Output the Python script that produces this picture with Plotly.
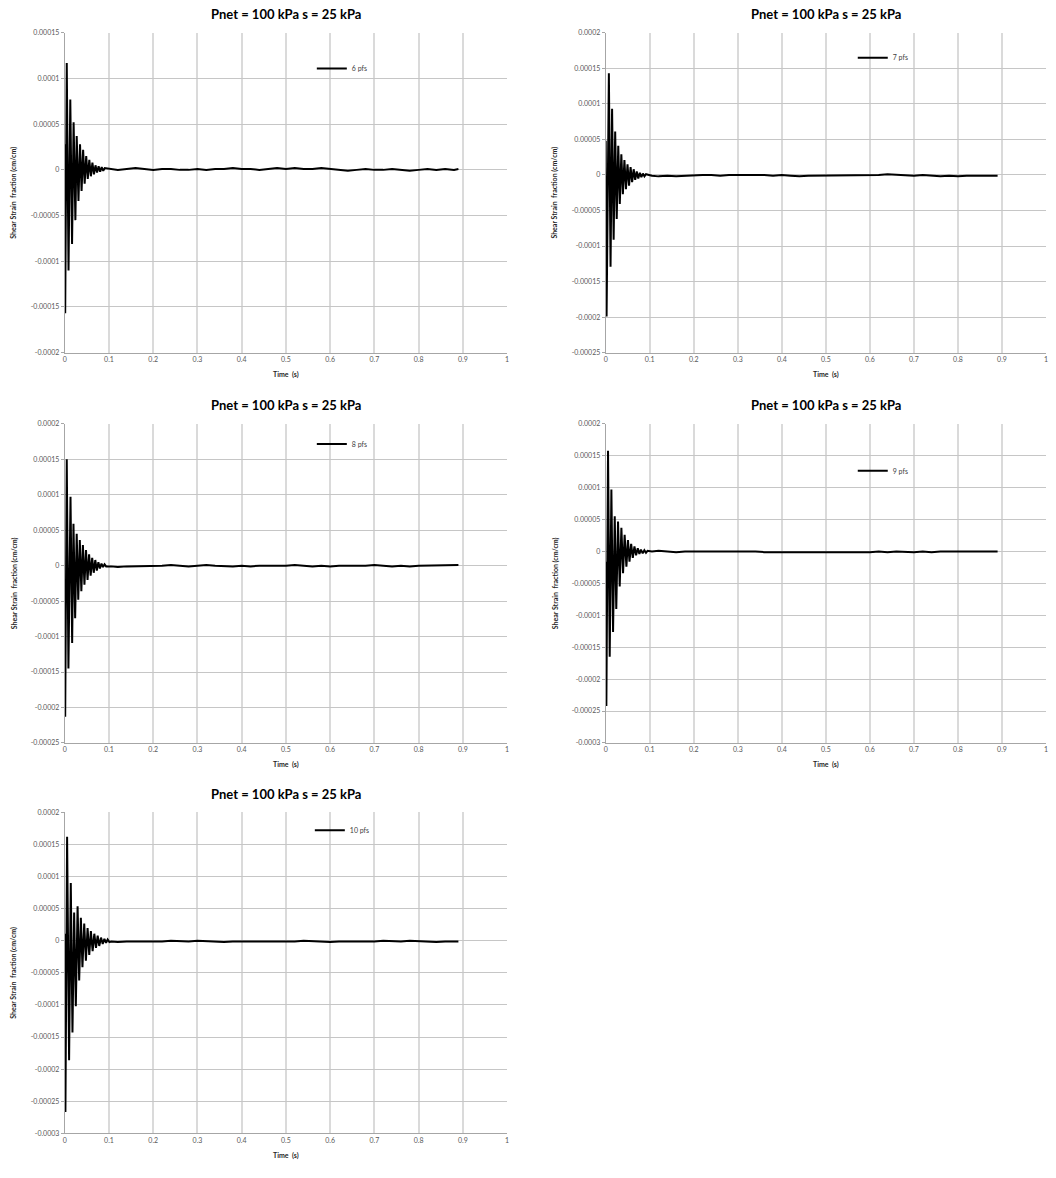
import plotly.graph_objects as go

# ---------------------------------------------------------------
# Shear strain time histories, Pnet = 100 kPa, s = 25 kPa
# Values in the arrays below are in micro-strain units (x 1e-6)
# ---------------------------------------------------------------

TITLE = "Pnet = 100 kPa s = 25 kPa"
X_TITLE = "Time  (s)"
Y_TITLE = "Shear Strain  fraction (cm/cm)"

X_TICKS = [0, 0.1, 0.2, 0.3, 0.4, 0.5, 0.6, 0.7, 0.8, 0.9, 1]
X_TICK_TEXT = ["0", "0.1", "0.2", "0.3", "0.4", "0.5", "0.6", "0.7", "0.8", "0.9", "1"]

Y_TICKS_A = [0.00015, 0.0001, 0.00005, 0, -0.00005, -0.0001, -0.00015, -0.0002]
Y_TEXT_A = ["0.00015", "0.0001", "0.00005", "0", "-0.00005", "-0.0001", "-0.00015", "-0.0002"]
Y_TICKS_B = [0.0002, 0.00015, 0.0001, 0.00005, 0, -0.00005, -0.0001, -0.00015, -0.0002, -0.00025]
Y_TEXT_B = ["0.0002", "0.00015", "0.0001", "0.00005", "0", "-0.00005", "-0.0001", "-0.00015",
            "-0.0002", "-0.00025"]
Y_TICKS_C = [0.0002, 0.00015, 0.0001, 0.00005, 0, -0.00005, -0.0001, -0.00015, -0.0002,
             -0.00025, -0.0003]
Y_TEXT_C = ["0.0002", "0.00015", "0.0001", "0.00005", "0", "-0.00005", "-0.0001", "-0.00015",
            "-0.0002", "-0.00025", "-0.0003"]

# early free-vibration peaks (time in s, strain x 1e-6)
T_6 = [0, 0.001, 0.0045, 0.0085, 0.0125, 0.0165, 0.020, 0.024, 0.027, 0.031, 0.0345, 0.038,
       0.0415, 0.045, 0.0485, 0.052, 0.0555, 0.059, 0.0625, 0.066, 0.0695, 0.073, 0.0765,
       0.080, 0.0835, 0.087, 0.0905]
V_6 = [28, -157, 117, -110, 77, -81, 52, -55, 37, -34, 28, -23, 22, -15, 15, -10, 11, -7, 8,
       -5, 5, -3, 4, -2, 3, -1, 2]

T_7 = [0, 0.002, 0.0072, 0.011, 0.0145, 0.018, 0.0215, 0.025, 0.0285, 0.032, 0.0355, 0.039,
       0.0425, 0.046, 0.0495, 0.053, 0.0565, 0.060, 0.0635, 0.067, 0.0705, 0.074, 0.0775,
       0.081, 0.0845, 0.088, 0.0915]
V_7 = [48, -199, 143, -129, 93, -91, 61, -62, 41, -41, 29, -27, 21, -20, 15, -15, 11, -10, 8,
       -7, 5, -5, 3, -3, 2, -2, 1]

T_8 = [0, 0.001, 0.0045, 0.0083, 0.013, 0.0167, 0.0197, 0.0235, 0.027, 0.0305, 0.034, 0.0375,
       0.041, 0.0445, 0.048, 0.0515, 0.055, 0.0585, 0.062, 0.0655, 0.069, 0.0725, 0.076,
       0.0795, 0.083, 0.0865, 0.090, 0.0935]
V_8 = [-22, -213, 150, -145, 97, -109, 59, -74, 45, -48, 36, -36, 29, -27, 22, -20, 16, -14,
       11, -10, 8, -7, 5, -4, 3, -2, 2, -1]

T_9 = [0, 0.0015, 0.0053, 0.0091, 0.0129, 0.0167, 0.0205, 0.024, 0.028, 0.0318, 0.0356, 0.0394,
       0.043, 0.047, 0.0505, 0.054, 0.0578, 0.0615, 0.0653, 0.069, 0.0728, 0.0765, 0.080,
       0.084, 0.0878, 0.0915, 0.095]
V_9 = [-16, -242, 158, -165, 97, -126, 55, -90, 47, -55, 37, -34, 26, -24, 18, -16, 12, -10,
       8, -6, 5, -4, 3, -3, 2, -2, 1]

T_10 = [0, 0.0015, 0.0053, 0.0098, 0.0136, 0.0174, 0.0212, 0.025, 0.029, 0.0326, 0.0364, 0.040,
        0.044, 0.0478, 0.0516, 0.0554, 0.059, 0.063, 0.0668, 0.0706, 0.0744, 0.078, 0.082,
        0.0858, 0.0896, 0.0934, 0.097, 0.101]
V_10 = [11, -267, 162, -186, 90, -143, 44, -102, 54, -62, 36, -41, 27, -31, 20, -22, 15, -16,
        11, -11, 8, -8, 5, -5, 3, -3, 2, -2]

# residual (post-decay) record
T_TAIL = [0.105, 0.12, 0.14, 0.16, 0.18, 0.20, 0.22, 0.24, 0.26, 0.28, 0.30, 0.32, 0.34, 0.36,
          0.38, 0.40, 0.42, 0.44, 0.46, 0.48, 0.50, 0.52, 0.54, 0.56, 0.58, 0.60, 0.62, 0.64,
          0.66, 0.68, 0.70, 0.72, 0.74, 0.76, 0.78, 0.80, 0.82, 0.84, 0.86, 0.88, 0.89]
TAIL_6 = [1, 0, 1, 2, 1, 0, 1, 1, 0, 0, 1, 0, 1, 1, 2, 1, 1, 0, 1, 2, 1, 2, 1, 1, 2, 1, 0, -1,
          0, 1, 0, 0, 1, 0, -1, 0, 1, 0, 1, 0, 1]
TAIL_7 = [-1, -2, -1, -2, -1, -1, 0, 0, -1, 0, 0, 1, 0, 0, -1, 0, -1, -2, -1, -1, 0, -1, 0, -1,
          -1, 0, 0, 1, 0, -1, -1, 0, -1, -2, -1, -2, -1, -1, -2, -1, -1]
TAIL_8 = [-1, -2, -1, -1, 0, -1, 0, 1, 0, -1, 0, 1, 0, -1, -1, 0, -1, 0, 0, -1, 0, 1, 0, -1, 0,
          -1, 0, 0, -1, 0, 1, 0, -1, 0, -1, 0, 0, 1, 0, 0, 1]
TAIL_9 = [0, 1, 0, -1, 0, 0, 1, 0, 0, 0, 1, 0, 0, -1, -1, -2, -1, -2, -1, -1, -2, -1, -1, -2, -1,
          -1, 0, -1, 0, -1, -1, 0, -1, 0, 0, 1, 0, 0, 1, 0, 0]
TAIL_10 = [-1, -2, -1, -1, -2, -1, -1, 0, -1, -1, 0, -1, -1, -2, -1, -1, -2, -2, -1, -2, -1, -1,
           0, -1, -1, -2, -1, -1, -2, -1, -1, 0, -1, -1, 0, -1, -1, -2, -1, -1, -1]

SERIES = ["6 pfs", "7 pfs", "8 pfs", "9 pfs", "10 pfs"]
PEAK_T = [T_6, T_7, T_8, T_9, T_10]
PEAK_V = [V_6, V_7, V_8, V_9, V_10]
TAILS = [TAIL_6, TAIL_7, TAIL_8, TAIL_9, TAIL_10]
Y_RANGES = [(-0.0002, 0.00015), (-0.00025, 0.0002), (-0.00025, 0.0002),
            (-0.0003, 0.0002), (-0.0003, 0.0002)]
Y_TICKS = [(Y_TICKS_A, Y_TEXT_A), (Y_TICKS_B, Y_TEXT_B), (Y_TICKS_B, Y_TEXT_B),
           (Y_TICKS_C, Y_TEXT_C), (Y_TICKS_C, Y_TEXT_C)]

# ---------------------------------------------------------------
# layout geometry (figure pixels -> paper fractions)
# ---------------------------------------------------------------
W, H = 1056, 1178
COLS = [(63, 507), (606, 1048)]
ROWS = [(28, 350), (421.7, 743), (813, 1136)]
PANELS = [(0, 0), (0, 1), (1, 0), (1, 1), (2, 0)]   # (row, col)
LEGEND_POS = [(336, 64), (879, 53), (336, 442), (879, 469), (334, 831)]

FONT = "Lato"
GRID_H = "#c6c6c6"
GRID_V = "#dadada"
TICK_COLOR = "#595959"

fig = go.Figure()
layout = dict(
    width=W, height=H, margin=dict(l=0, r=0, t=0, b=0),
    paper_bgcolor="white", plot_bgcolor="white",
    font=dict(family=FONT, color=TICK_COLOR),
    showlegend=True, annotations=[],
)

for i, (row, col) in enumerate(PANELS):
    n = "" if i == 0 else str(i + 1)
    x0, x1 = COLS[col]
    top, bot = ROWS[row]
    xdom = [x0 / W, x1 / W]
    ydom = [1 - bot / H, 1 - top / H]

    t = PEAK_T[i] + T_TAIL
    v = [val * 1e-6 for val in PEAK_V[i] + TAILS[i]]
    leg = "legend" + n
    fig.add_trace(go.Scatter(
        x=t, y=v, mode="lines", name=SERIES[i],
        line=dict(color="black", width=2),
        xaxis="x" + n, yaxis="y" + n, legend=leg,
    ))

    tv, tt = Y_TICKS[i]
    layout["xaxis" + n] = dict(
        domain=xdom, anchor="y" + n, range=[0, 1],
        tickvals=X_TICKS, ticktext=X_TICK_TEXT,
        showgrid=True, gridcolor=GRID_V, gridwidth=1.5,
        showline=True, linecolor="#a6a6a6", linewidth=1,
        ticks="", tickfont=dict(size=7, color=TICK_COLOR, family=FONT),
        zeroline=False, fixedrange=True,
    )
    layout["yaxis" + n] = dict(
        domain=ydom, anchor="x" + n, range=list(Y_RANGES[i]),
        tickvals=tv, ticktext=tt,
        showgrid=True, gridcolor=GRID_H, gridwidth=1,
        showline=True, linecolor="#a6a6a6", linewidth=1,
        ticks="outside", ticklen=3, tickcolor="#a6a6a6",
        tickfont=dict(size=7, color=TICK_COLOR, family=FONT),
        zeroline=False, fixedrange=True,
    )
    layout["annotations"] += [
        dict(text=TITLE, xref="paper", yref="paper",
             x=(x0 + x1) / 2 / W, y=1 - (top - 19) / H,
             xanchor="center", yanchor="middle", showarrow=False,
             font=dict(size=13, color="black", family=FONT, weight="bold")),
        dict(text=X_TITLE, xref="paper", yref="paper",
             x=(x0 + x1) / 2 / W, y=1 - (bot + 22) / H,
             xanchor="center", yanchor="middle", showarrow=False,
             font=dict(size=7, color="#262626", family=FONT, weight="bold")),
        dict(text=Y_TITLE, xref="paper", yref="paper", textangle=-90,
             x=(x0 - 51) / W, y=1 - (top + bot) / 2 / H,
             xanchor="center", yanchor="middle", showarrow=False,
             font=dict(size=7, color="#262626", family=FONT, weight="bold")),
    ]
    lx, ly = LEGEND_POS[i]
    layout[leg] = dict(
        x=(lx - 25) / W, y=1 - ly / H, xref="paper", yref="paper",
        xanchor="left", yanchor="middle", bgcolor="rgba(0,0,0,0)",
        font=dict(size=7, color="#404040", family=FONT),
        itemwidth=30, tracegroupgap=0,
    )

fig.update_layout(**layout)
fig.write_html("out.html")
